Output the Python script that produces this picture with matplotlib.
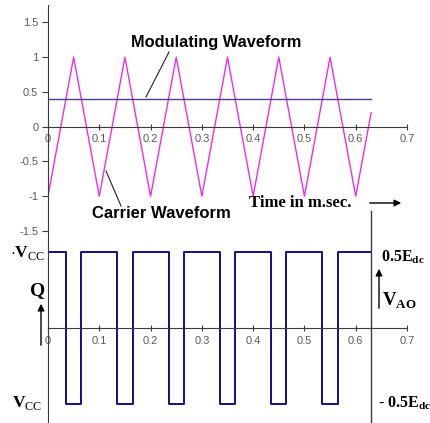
import matplotlib.pyplot as plt
from matplotlib.patches import FancyArrowPatch

plt.rcParams['font.family'] = ['Liberation Sans', 'DejaVu Sans']
plt.rcParams['mathtext.fontset'] = 'custom'
plt.rcParams['mathtext.rm'] = 'Liberation Serif'
plt.rcParams['mathtext.bf'] = 'Liberation Serif:bold'

# carrier (triangle) vertices, time in ms
carrier_t = [0, 0.05, 0.1, 0.15, 0.2, 0.25, 0.3, 0.35, 0.4, 0.45, 0.5, 0.55, 0.6, 0.63]
carrier_v = [-1, 1, -1, 1, -1, 1, -1, 1, -1, 1, -1, 1, -1, 0.2]

# modulating reference level
mod_t = [0, 0.63]
mod_v = [0.4, 0.4]

# switched output: edges and the level held after each edge
pulse_t = [0, 0.035, 0.065, 0.135, 0.165, 0.235, 0.265, 0.335, 0.365,
           0.435, 0.465, 0.535, 0.565, 0.63]
pulse_v = [1, -1, 1, -1, 1, -1, 1, -1, 1, -1, 1, -1, 1, 1]

x_ticks = [0, 0.1, 0.2, 0.3, 0.4, 0.5, 0.6, 0.7]
x_labels = ['0', '0.1', '0.2', '0.3', '0.4', '0.5', '0.6', '0.7']
y_ticks = [-1.5, -1, -0.5, 0, 0.5, 1, 1.5]
y_labels = ['-1.5', '-1', '-0.5', '0', '0.5', '1', '1.5']

W, H = 430, 423
fig = plt.figure(figsize=(W / 100, H / 100), dpi=100)
fig.patch.set_facecolor('white')

def px(x, y):
    return x / W, 1 - y / H

axis_col = '#3a3a3a'
tick_col = '#5a5a5a'

# top panel: carrier vs modulating
ax1 = fig.add_axes([48 / W, 1 - 231 / H, 359 / W, 226 / H])
ax1.plot(carrier_t, carrier_v, color='#e830e8', lw=1.0)
ax1.plot(mod_t, mod_v, color='#4a3c8c', lw=1.0)
ax1.set_xlim(0, 0.7)
ax1.set_ylim(-1.5, 1.75)

# bottom panel: output voltage
ax2 = fig.add_axes([48 / W, 0, 359 / W, 192 / H])
ax2.plot(pulse_t, pulse_v, drawstyle='steps-post', color='#101080', lw=1.4)
ax2.set_xlim(0, 0.7)
ax2.set_ylim(-1.25, 1.276)
ax2.axvline(0.63, ymin=0, ymax=1.104, color=axis_col, lw=1.0, clip_on=False)

for ax in (ax1, ax2):
    ax.set_facecolor('none')
    for s in ('top', 'right'):
        ax.spines[s].set_visible(False)
    ax.spines['bottom'].set_position(('data', 0))
    ax.spines['bottom'].set_color(axis_col)
    ax.spines['left'].set_color(axis_col)
    ax.set_xticks(x_ticks)
    ax.set_xticklabels(x_labels)
    ax.tick_params(axis='x', direction='inout', length=5, width=0.8, color=axis_col,
                   labelsize=8, labelcolor=tick_col, pad=3)

ax1.set_yticks(y_ticks)
ax1.set_yticklabels(y_labels)
ax1.tick_params(axis='y', direction='out', length=4, width=0.8, color=axis_col,
                labelsize=8, labelcolor=tick_col, pad=3)
ax2.set_yticks([])

# labels and pointers
fig.text(*px(216, 42), 'Modulating Waveform', ha='center', va='center',
         fontsize=11.8, fontweight='bold')
fig.add_artist(plt.Line2D([169 / W, 146 / W], [1 - 52 / H, 1 - 97 / H],
                          color='#222222', lw=0.8))
fig.text(*px(161, 213), 'Carrier Waveform', ha='center', va='center',
         fontsize=12, fontweight='bold')
fig.add_artist(plt.Line2D([106 / W, 121 / W], [1 - 171 / H, 1 - 206 / H],
                          color='#222222', lw=0.8))
fig.text(*px(300, 203), 'Time in m.sec.', ha='center', va='center',
         fontsize=12, fontweight='bold', family='Liberation Serif')
fig.add_artist(FancyArrowPatch(px(367, 203), px(404, 203), arrowstyle='-|>',
                               mutation_scale=10, color='black', lw=1.0))

fig.text(*px(10, 253), r'$\cdot\mathbf{V}_{\mathrm{CC}}$', ha='left', va='center', fontsize=12.5)
fig.text(*px(12, 403), r'$\mathbf{V}_{\mathrm{CC}}$', ha='left', va='center', fontsize=12.5)
fig.text(*px(38, 291), 'Q', ha='center', va='center', fontsize=14,
         fontweight='bold', family='Liberation Serif')
fig.add_artist(FancyArrowPatch(px(41, 348), px(41, 301), arrowstyle='-|>',
                               mutation_scale=10, color='black', lw=1.0))

fig.text(*px(381, 257), r'$\mathbf{0.5E}_{\mathbf{dc}}$', ha='left', va='center', fontsize=11.5)
fig.text(*px(378, 403), r'- $\mathbf{0.5E}_{\mathbf{dc}}$', ha='left', va='center',
         fontsize=11.5, fontweight='bold', family='Liberation Serif')
fig.add_artist(FancyArrowPatch(px(379, 311), px(379, 266), arrowstyle='-|>',
                               mutation_scale=10, color='black', lw=1.0))
fig.text(*px(382, 301), r'$\mathbf{V}_{\mathbf{AO}}$', ha='left', va='center', fontsize=13.5)

fig.savefig('out.png', dpi=100)
